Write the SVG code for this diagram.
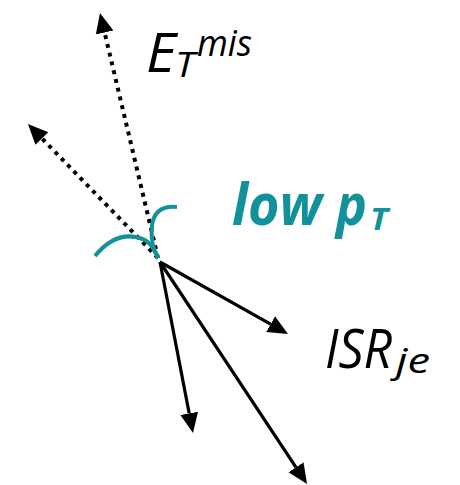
<svg xmlns="http://www.w3.org/2000/svg" width="460" height="485" viewBox="0 0 460 485">
<style>
.lbl{font-family:"Open Sans","Liberation Sans",sans-serif;font-style:italic;fill:#000}
.teal{font-family:"Open Sans","Liberation Sans",sans-serif;font-style:italic;font-weight:bold;fill:#13919a}
.solid{stroke:#000;stroke-width:3.2;fill:none}
.dot{stroke:#000;stroke-width:4;stroke-dasharray:4 5;fill:none}
.curve{stroke:#13919a;stroke-width:4;fill:none;stroke-linecap:butt}
</style>
<defs>
<marker id="ah" markerUnits="userSpaceOnUse" markerWidth="22" markerHeight="20" viewBox="0 -10 22 20" refX="0" refY="0" orient="auto">
<path d="M0,-9 L20,0 L0,9 Z" fill="#000"/>
</marker>
</defs>
<g id="connectors">
<line class="dot" x1="158" y1="258" x2="104.6" y2="32.5" marker-end="url(#ah)"/>
<line class="dot" x1="158" y1="258" x2="41.9" y2="138.4" marker-end="url(#ah)"/>
<line class="solid" x1="160" y1="262" x2="270.6" y2="324.2" marker-end="url(#ah)"/>
<line class="solid" x1="160" y1="262" x2="189.2" y2="413.4" marker-end="url(#ah)"/>
<line class="solid" x1="160" y1="262" x2="296" y2="467.3" marker-end="url(#ah)"/>
</g>
<g id="curves">
<path class="curve" d="M95,256 Q118,228 145,240 Q153,245 158,258"/>
<path class="curve" d="M177,207 Q155,205 152,225 Q150,245 158,258"/>
</g>
<g id="label-met">
<text class="lbl" x="146" y="72" font-size="54" textLength="30" lengthAdjust="spacingAndGlyphs">E</text>
<text class="lbl" x="175" y="77" font-size="34" textLength="20" lengthAdjust="spacingAndGlyphs">T</text>
<text class="lbl" x="197" y="56" font-size="36" textLength="55" lengthAdjust="spacingAndGlyphs">mis</text>
</g>
<g id="label-lowpt">
<text class="teal" x="232" y="225" font-size="58" textLength="90" lengthAdjust="spacingAndGlyphs">low</text>
<text class="teal" x="336" y="225" font-size="58" textLength="31" lengthAdjust="spacingAndGlyphs">p</text>
<text class="teal" x="370" y="230" font-size="30" textLength="18" lengthAdjust="spacingAndGlyphs">T</text>
</g>
<g id="label-isr">
<text class="lbl" x="325" y="368" font-size="54" textLength="67" lengthAdjust="spacingAndGlyphs">ISR</text>
<text class="lbl" x="396" y="373" font-size="34" textLength="34" lengthAdjust="spacingAndGlyphs">je</text>
</g>
</svg>
